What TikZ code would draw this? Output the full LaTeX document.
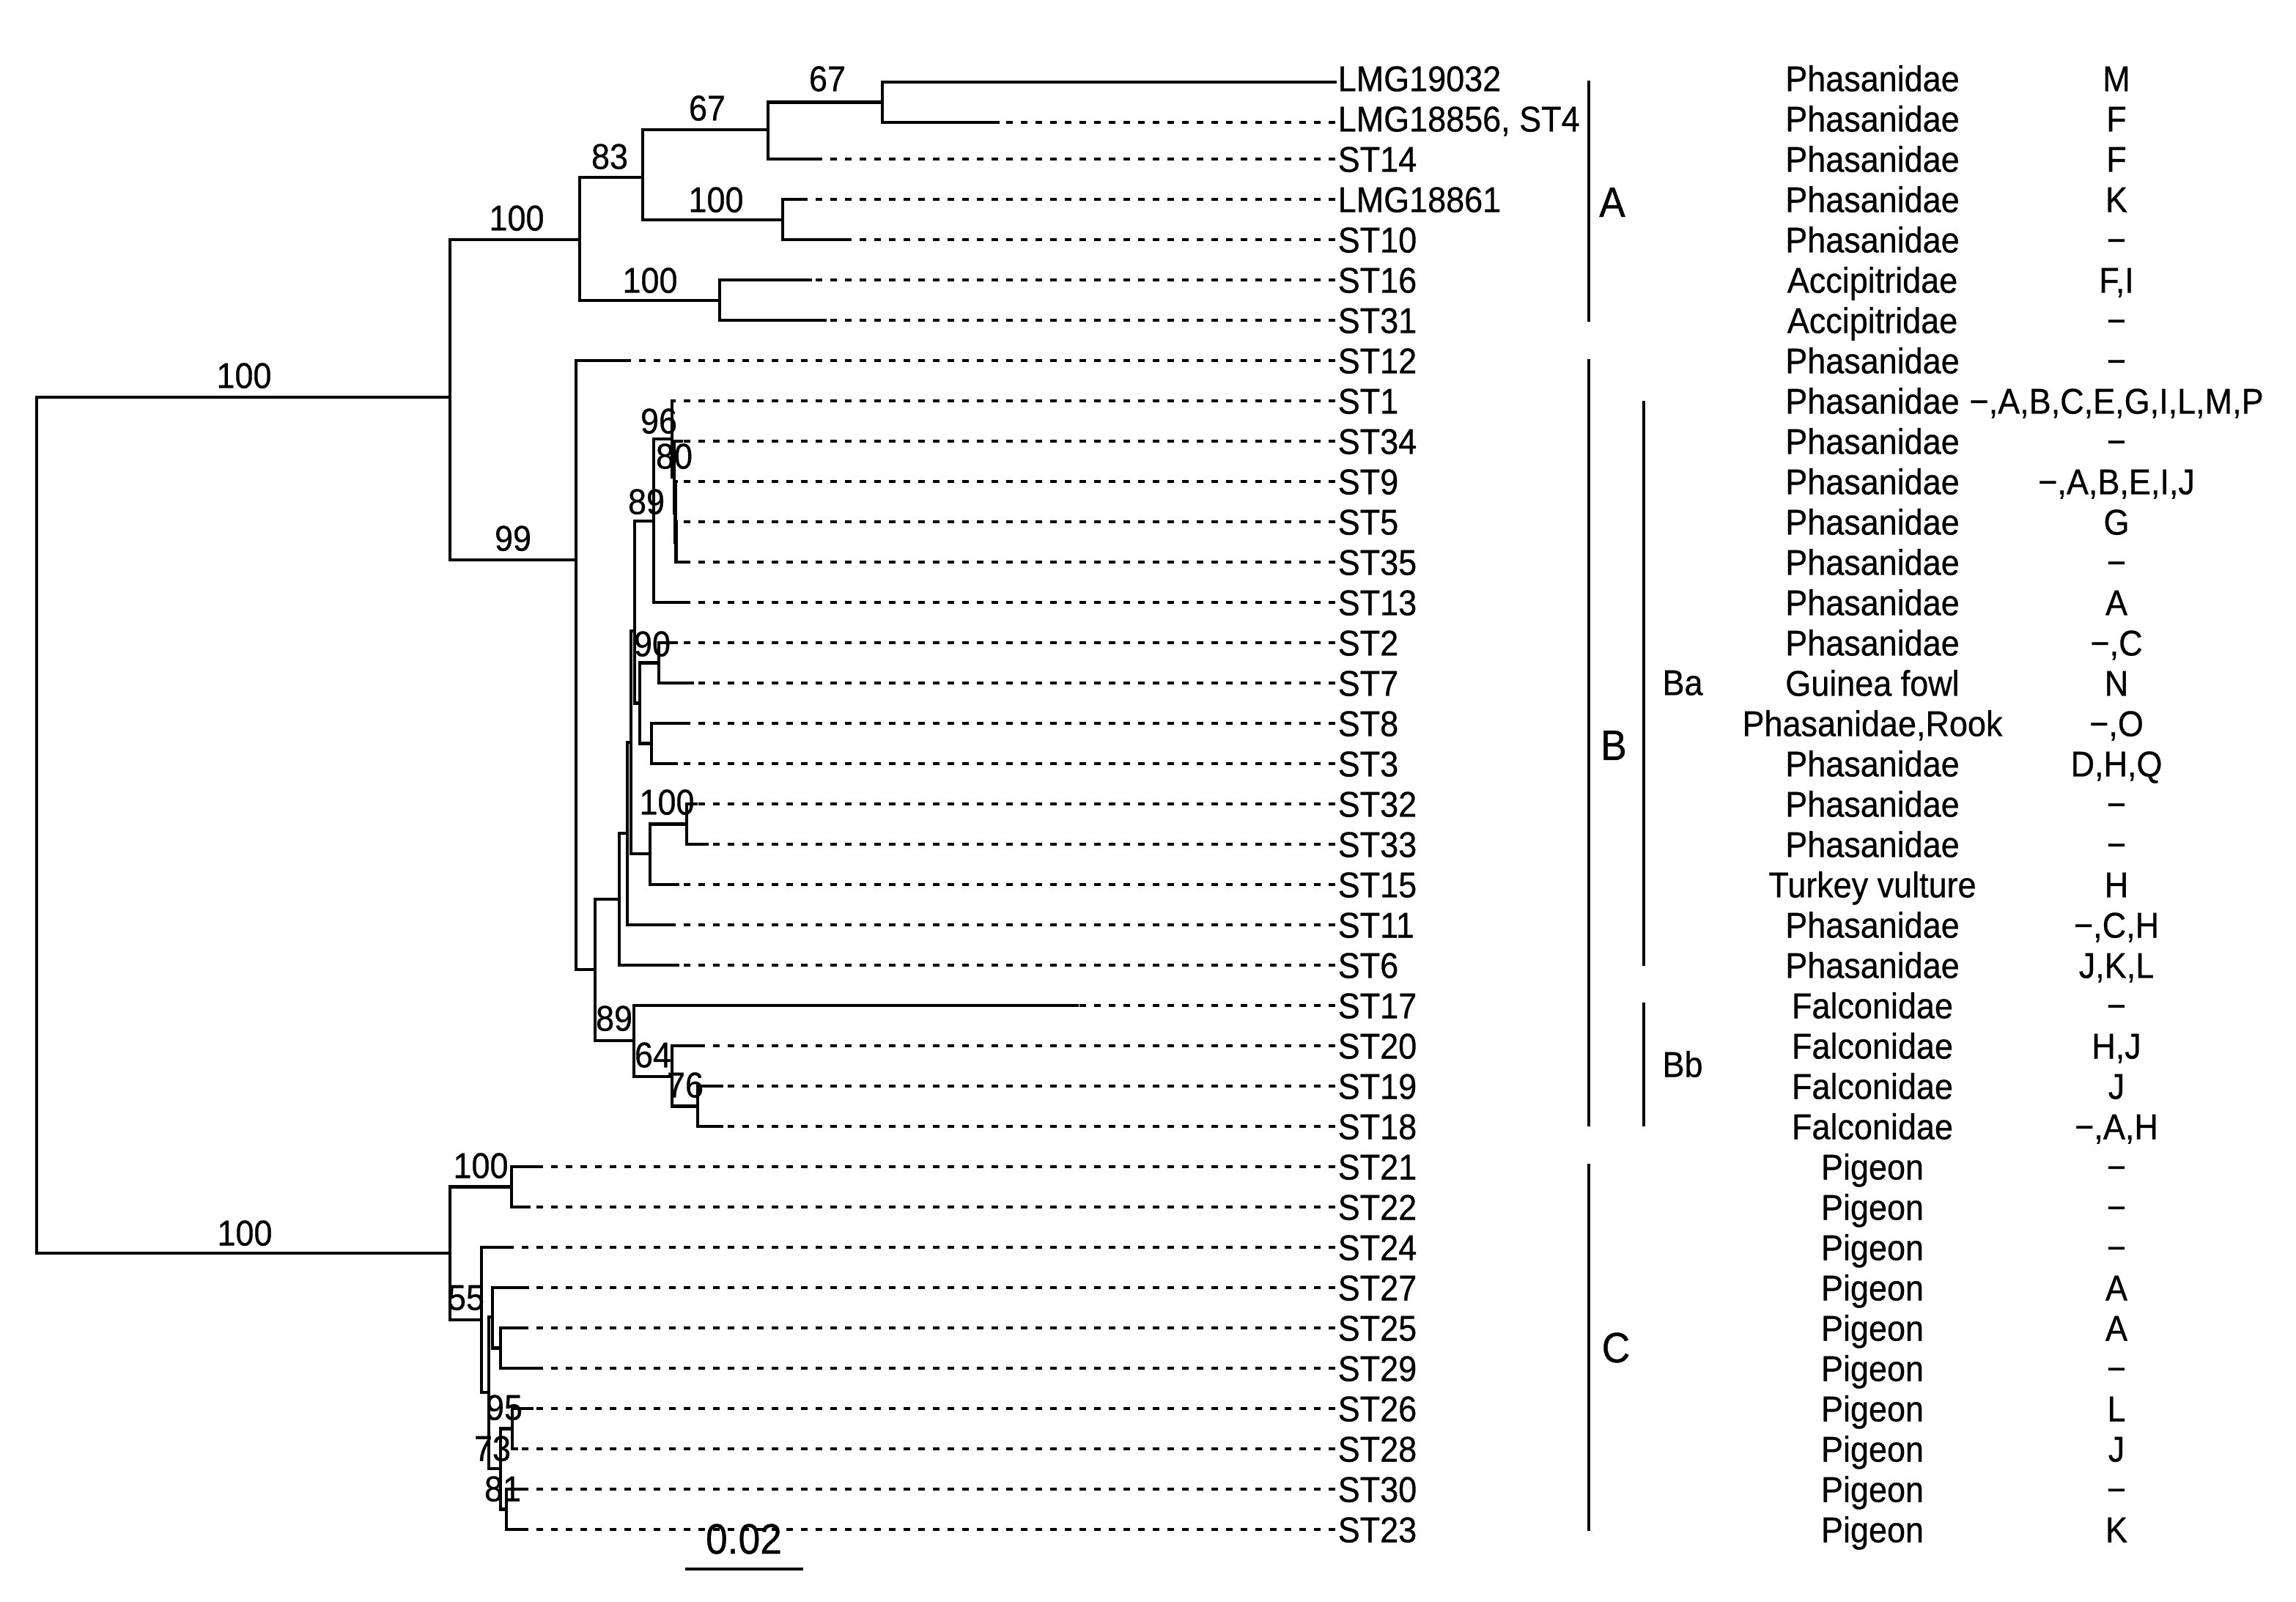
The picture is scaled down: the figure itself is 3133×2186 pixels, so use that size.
\documentclass[tikz,border=0pt]{standalone}
\usepackage{fontspec}
\setmainfont{Liberation Sans}[FakeStretch=0.92,FakeBold=0.6]
\newcommand{\tfs}{\fontsize{13.9pt}{16pt}\selectfont}
\newcommand{\tfb}{\fontsize{16.5pt}{19pt}\selectfont}
\begin{document}
\begin{tikzpicture}[x=0.01cm,y=-0.01cm,
  br/.style={line width=0.045cm, line join=miter, line cap=rect},
  dotl/.style={line width=0.045cm, dash pattern=on 0.09cm off 0.11cm},
  brk/.style={line width=0.04cm},
  tip/.style={anchor=base west, inner sep=0pt, font=\tfs},
  col/.style={anchor=base, inner sep=0pt, font=\tfs},
  bs/.style={anchor=base, inner sep=0pt, font=\tfs},
  cl/.style={anchor=base, inner sep=0pt, font=\tfb}]
\useasboundingbox (0,0) rectangle (3133,2186);
\newcommand{\mkrow}[4]{%
  \pgfmathsetmacro{\yb}{124.5+55*#1}%
  \node[tip] (l#1) at (1825,\yb) {#2};
  \node[col] (h#1) at (2555,\yb) {#3};
  \node[col] (s#1) at (2888,\yb) {#4};}
% internal nodes
\coordinate (r0) at (50,1126);
\coordinate (A0) at (614,542);
\coordinate (C0) at (614,1710);
\coordinate (A1) at (791,327);
\coordinate (B0) at (786,764);
\coordinate (A2) at (877,242);
\coordinate (A3) at (982,410);
\coordinate (A4) at (1048,177);
\coordinate (A5) at (1068,300);
\coordinate (A6) at (1204,139.5);
\coordinate (B1) at (812,1323);
\coordinate (Ba) at (845,1227);
\coordinate (Bb) at (865,1420);
\coordinate (Bb2) at (917,1469);
\coordinate (Bb3) at (952,1509.5);
\coordinate (X) at (856,1137);
\coordinate (R) at (861,1013);
\coordinate (P) at (866,861);
\coordinate (N89) at (892,711);
\coordinate (N96) at (917,599);
\coordinate (N80) at (920,651);
\coordinate (N80b) at (921.5,699.5);
\coordinate (N80c) at (922.5,739.5);
\coordinate (Q) at (873,959.5);
\coordinate (N90) at (899,904.5);
\coordinate (S83) at (889,1014.5);
\coordinate (T) at (887,1165);
\coordinate (N100) at (937,1124.5);
\coordinate (C1) at (698,1619.5);
\coordinate (D5) at (657,1801);
\coordinate (D4) at (667,1900);
\coordinate (C27) at (672,1797);
\coordinate (C25) at (683,1839.5);
\coordinate (D3) at (683,2004);
\coordinate (D2) at (699,1949.5);
\coordinate (D1) at (691,2059.5);
% tips (end of solid branch)
\coordinate (t0) at (1822,112);
\coordinate (t1) at (1362,167);
\coordinate (t2) at (1111,217);
\coordinate (t3) at (1091,272);
\coordinate (t4) at (1157,327);
\coordinate (t5) at (1106,382);
\coordinate (t6) at (1126,437);
\coordinate (t7) at (853,492);
\coordinate (t8) at (920,547);
\coordinate (t9) at (930,602);
\coordinate (t10) at (923,657);
\coordinate (t11) at (923,712);
\coordinate (t12) at (936,767);
\coordinate (t13) at (933,822);
\coordinate (t14) at (923,877);
\coordinate (t15) at (945,932);
\coordinate (t16) at (940,987);
\coordinate (t17) at (923,1042);
\coordinate (t18) at (950,1097);
\coordinate (t19) at (965,1152);
\coordinate (t20) at (925,1207);
\coordinate (t21) at (915,1262);
\coordinate (t22) at (925,1317);
\coordinate (t23) at (1470,1372);
\coordinate (t24) at (955,1427);
\coordinate (t25) at (985,1482);
\coordinate (t26) at (985,1537);
\coordinate (t27) at (733,1592);
\coordinate (t28) at (722,1647);
\coordinate (t29) at (691,1702);
\coordinate (t30) at (720,1757);
\coordinate (t31) at (710,1812);
\coordinate (t32) at (733,1867);
\coordinate (t33) at (726,1922);
\coordinate (t34) at (705,1977);
\coordinate (t35) at (712,2032);
\coordinate (t36) at (712,2087);
\coordinate (lx) at (1822,0);
% dotted extensions
\foreach \i in {1,...,36} {\draw[dotl] (t\i -| lx) -- (t\i);}
% branches
\draw[br] (A0) -| (r0) |- (C0);
\draw[br] (A1) -| (A0) |- (B0);
\draw[br] (A2) -| (A1) |- (A3);
\draw[br] (A4) -| (A2) |- (A5);
\draw[br] (A6) -| (A4) |- (t2);
\draw[br] (t0) -| (A6) |- (t1);
\draw[br] (t3) -| (A5) |- (t4);
\draw[br] (t5) -| (A3) |- (t6);
\draw[br] (t7) -| (B0) |- (B1);
\draw[br] (Ba) -| (B1) |- (Bb);
\draw[br] (X) -| (Ba) |- (t22);
\draw[br] (R) -| (X) |- (t21);
\draw[br] (P) -| (R) |- (T);
\draw[br] (N89) -| (P) |- (Q);
\draw[br] (N96) -| (N89) |- (t13);
\draw[br] (t8) -| (N96) |- (N80);
\draw[br] (t9) -| (N80) |- (N80b);
\draw[br] (t10) -| (N80b) |- (N80c);
\draw[br] (t11) -| (N80c) |- (t12);
\draw[br] (N90) -| (Q) |- (S83);
\draw[br] (t14) -| (N90) |- (t15);
\draw[br] (t16) -| (S83) |- (t17);
\draw[br] (N100) -| (T) |- (t20);
\draw[br] (t18) -| (N100) |- (t19);
\draw[br] (t23) -| (Bb) |- (Bb2);
\draw[br] (t24) -| (Bb2) |- (Bb3);
\draw[br] (t25) -| (Bb3) |- (t26);
\draw[br] (C1) -| (C0) |- (D5);
\draw[br] (t27) -| (C1) |- (t28);
\draw[br] (t29) -| (D5) |- (D4);
\draw[br] (C27) -| (D4) |- (D3);
\draw[br] (t30) -| (C27) |- (C25);
\draw[br] (t31) -| (C25) |- (t32);
\draw[br] (D2) -| (D3) |- (D1);
\draw[br] (t33) -| (D2) |- (t34);
\draw[br] (t35) -| (D1) |- (t36);
% bootstrap values
\node[bs] (b1) at (333,529.5) {100};
\node[bs] (b2) at (334,1699.5) {100};
\node[bs] (b3) at (705,314.5) {100};
\node[bs] (b4) at (700,751.5) {99};
\node[bs] (b5) at (832,230.5) {83};
\node[bs] (b6) at (965,164.5) {67};
\node[bs] (b7) at (1129,124.5) {67};
\node[bs] (b8) at (977,289.5) {100};
\node[bs] (b9) at (887,399.5) {100};
\node[bs] (b10) at (899,591.5) {96};
\node[bs] (b11) at (920,639.5) {80};
\node[bs] (b12) at (882,701.5) {89};
\node[bs] (b13) at (890,895.5) {90};
\node[bs] (b14) at (910,1111.5) {100};
\node[bs] (b15) at (838,1406.5) {89};
\node[bs] (b16) at (891,1456.5) {64};
\node[bs] (b17) at (935,1497.5) {76};
\node[bs] (b18) at (656,1607.5) {100};
\node[bs] (b19) at (636,1787.5) {55};
\node[bs] (b20) at (688,1937.5) {95};
\node[bs] (b21) at (672,1993.5) {73};
\node[bs] (b22) at (686,2048.5) {81};
% rows
\mkrow{0}{LMG19032}{Phasanidae}{M}
\mkrow{1}{LMG18856, ST4}{Phasanidae}{F}
\mkrow{2}{ST14}{Phasanidae}{F}
\mkrow{3}{LMG18861}{Phasanidae}{K}
\mkrow{4}{ST10}{Phasanidae}{−}
\mkrow{5}{ST16}{Accipitridae}{F,I}
\mkrow{6}{ST31}{Accipitridae}{−}
\mkrow{7}{ST12}{Phasanidae}{−}
\mkrow{8}{ST1}{Phasanidae}{−,A,B,C,E,G,I,L,M,P}
\mkrow{9}{ST34}{Phasanidae}{−}
\mkrow{10}{ST9}{Phasanidae}{−,A,B,E,I,J}
\mkrow{11}{ST5}{Phasanidae}{G}
\mkrow{12}{ST35}{Phasanidae}{−}
\mkrow{13}{ST13}{Phasanidae}{A}
\mkrow{14}{ST2}{Phasanidae}{−,C}
\mkrow{15}{ST7}{Guinea fowl}{N}
\mkrow{16}{ST8}{Phasanidae,Rook}{−,O}
\mkrow{17}{ST3}{Phasanidae}{D,H,Q}
\mkrow{18}{ST32}{Phasanidae}{−}
\mkrow{19}{ST33}{Phasanidae}{−}
\mkrow{20}{ST15}{Turkey vulture}{H}
\mkrow{21}{ST11}{Phasanidae}{−,C,H}
\mkrow{22}{ST6}{Phasanidae}{J,K,L}
\mkrow{23}{ST17}{Falconidae}{−}
\mkrow{24}{ST20}{Falconidae}{H,J}
\mkrow{25}{ST19}{Falconidae}{J}
\mkrow{26}{ST18}{Falconidae}{−,A,H}
\mkrow{27}{ST21}{Pigeon}{−}
\mkrow{28}{ST22}{Pigeon}{−}
\mkrow{29}{ST24}{Pigeon}{−}
\mkrow{30}{ST27}{Pigeon}{A}
\mkrow{31}{ST25}{Pigeon}{A}
\mkrow{32}{ST29}{Pigeon}{−}
\mkrow{33}{ST26}{Pigeon}{L}
\mkrow{34}{ST28}{Pigeon}{J}
\mkrow{35}{ST30}{Pigeon}{−}
\mkrow{36}{ST23}{Pigeon}{K}
% clade brackets
\coordinate (kA1) at (2168,110); \coordinate (kA2) at (2168,439);
\coordinate (kB1) at (2168,490); \coordinate (kB2) at (2168,1537);
\coordinate (kBa1) at (2243,547); \coordinate (kBa2) at (2243,1318);
\coordinate (kBb1) at (2243,1368); \coordinate (kBb2) at (2243,1537);
\coordinate (kC1) at (2168,1588); \coordinate (kC2) at (2168,2089);
\draw[brk] (kA1) -- (kA2);
\draw[brk] (kB1) -- (kB2);
\draw[brk] (kBa1) -- (kBa2);
\draw[brk] (kBb1) -- (kBb2);
\draw[brk] (kC1) -- (kC2);
\node[cl] (cA) at (2200,296) {A};
\node[cl] (cB) at (2202,1037) {B};
\node[cl] (cC) at (2205,1859) {C};
\node[bs] (cBa) at (2296,948.5) {Ba};
\node[bs] (cBb) at (2296,1469.5) {Bb};
% scale bar
\coordinate (sb1) at (935,2141); \coordinate (sb2) at (1096,2141);
\draw[br, line cap=butt] (sb1) -- (sb2);
\node[cl] (sbl) at (1015,2120) {0.02};
\end{tikzpicture}
\end{document}
